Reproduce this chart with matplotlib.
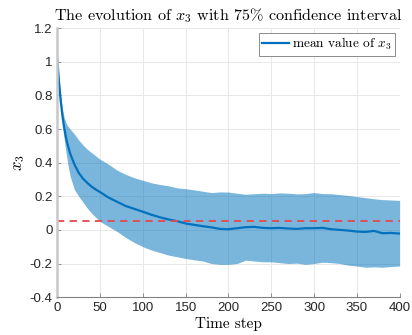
import matplotlib
matplotlib.use('Agg')
import matplotlib.pyplot as plt
import numpy as np

# time knots
steps = [0, 2, 4, 6, 8, 10, 12, 15, 20, 25, 30, 35, 40, 45, 50, 60, 70, 80, 90,
         100, 110, 120, 130, 140, 150, 160, 170, 180, 190, 200, 210, 220, 230,
         240, 250, 260, 270, 280, 290, 300, 310, 320, 330, 340, 350, 360, 370,
         380, 390, 400]

mean_x3 = [1.02, 0.88, 0.77, 0.68, 0.61, 0.555, 0.51, 0.455, 0.39, 0.34, 0.305,
           0.28, 0.258, 0.24, 0.225, 0.192, 0.167, 0.142, 0.125, 0.108, 0.09,
           0.075, 0.062, 0.052, 0.038, 0.03, 0.022, 0.015, 0.006, 0.004, 0.01,
           0.016, 0.018, 0.012, 0.01, 0.012, 0.008, 0.006, 0.01, 0.01, 0.012,
           0.004, 0.0, -0.004, -0.01, -0.012, -0.006, -0.02, -0.018, -0.022]

upper_x3 = [1.02, 0.9, 0.8, 0.72, 0.67, 0.64, 0.62, 0.6, 0.57, 0.535, 0.505,
            0.48, 0.46, 0.44, 0.42, 0.39, 0.355, 0.33, 0.31, 0.295, 0.28, 0.27,
            0.262, 0.25, 0.245, 0.238, 0.23, 0.222, 0.226, 0.225, 0.218, 0.212,
            0.215, 0.218, 0.216, 0.22, 0.218, 0.214, 0.216, 0.222, 0.216, 0.215,
            0.21, 0.205, 0.198, 0.192, 0.185, 0.18, 0.178, 0.175]

lower_x3 = [1.02, 0.86, 0.74, 0.63, 0.54, 0.47, 0.4, 0.32, 0.24, 0.2, 0.165,
            0.13, 0.1, 0.075, 0.05, 0.02, -0.01, -0.045, -0.075, -0.1, -0.12,
            -0.135, -0.15, -0.16, -0.17, -0.178, -0.185, -0.2, -0.205, -0.205,
            -0.2, -0.18, -0.185, -0.19, -0.19, -0.195, -0.2, -0.198, -0.205,
            -0.2, -0.192, -0.195, -0.2, -0.21, -0.215, -0.222, -0.22, -0.222,
            -0.218, -0.215]

threshold = 0.05

xticks = [0, 50, 100, 150, 200, 250, 300, 350, 400]
yticks = [-0.4, -0.2, 0, 0.2, 0.4, 0.6, 0.8, 1, 1.2]

plt.rcParams['mathtext.fontset'] = 'cm'
serif = {'family': 'cmr10'}

fig = plt.figure(figsize=(4.12, 3.35), dpi=100)
ax = fig.add_axes([0.139, 0.113, 0.831, 0.803])

ax.fill_between(steps, lower_x3, upper_x3, color='#0072BD', alpha=0.52,
                linewidth=0)
ax.plot(steps, mean_x3, color='#0072BD', linewidth=1.6,
        label='mean value of $x_3$')
ax.axhline(threshold, color='#e5484d', linestyle=(0, (4, 3)), linewidth=1.3)

ax.set_xlim(0, 400)
ax.set_ylim(-0.4, 1.2)
ax.set_xticks(xticks)
ax.set_yticks(yticks)
ax.set_xticklabels(["%g" % v for v in xticks])
ax.set_yticklabels(["%g" % v for v in yticks])
ax.grid(True, color='#e8e8e8', linewidth=0.7)
ax.set_axisbelow(True)

ax.spines['top'].set_visible(False)
ax.spines['right'].set_visible(False)
ax.spines['left'].set_color('#c8c8c8')
ax.spines['left'].set_linewidth(1.8)
ax.spines['bottom'].set_color('#808080')
ax.spines['bottom'].set_linewidth(0.8)
ax.tick_params(direction='in', length=3, width=0.6, colors='#808080',
               labelcolor='#262626', labelsize=9.5)
for lab in ax.get_xticklabels() + ax.get_yticklabels():
    lab.set_family(['Liberation Sans', 'DejaVu Sans'])

ax.set_title('The evolution of $x_3$ with 75% confidence interval',
             fontdict=serif, fontsize=11.6, pad=6)
ax.set_xlabel('Time step', fontdict=serif, fontsize=11, labelpad=2)
ax.set_ylabel('$x_3$', fontsize=12, labelpad=2)

leg = ax.legend(loc='upper right', prop={'family': 'cmr10', 'size': 9.6},
                fancybox=False, framealpha=1, edgecolor='#8c8c8c',
                borderpad=0.25, handlelength=2.0, handletextpad=0.25,
                borderaxespad=0.35)
leg.get_frame().set_linewidth(0.7)

fig.savefig('out.png', dpi=100)
